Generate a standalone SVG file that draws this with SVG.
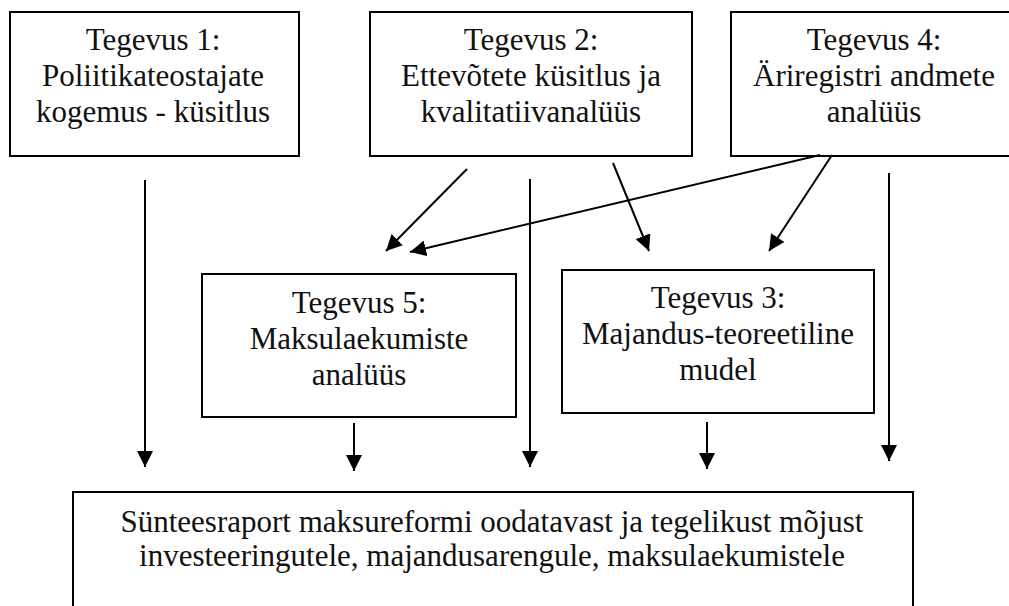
<svg xmlns="http://www.w3.org/2000/svg" width="1009" height="606" viewBox="0 0 1009 606">
<style>
.box{fill:#fff;stroke:#000;stroke-width:2}
text{font-family:'Liberation Serif','Times New Roman',serif;font-size:31px;fill:#111;text-anchor:middle}
.c{stroke:#000;stroke-width:2;fill:none;marker-end:url(#ah)}
</style>
<defs>
<marker id="ah" markerUnits="userSpaceOnUse" viewBox="0 0 16 16" refX="16" refY="8" markerWidth="16" markerHeight="16" orient="auto">
<path d="M0,0 L16,8 L0,16 z" fill="#000"/>
</marker>
</defs>
<rect width="1009" height="606" fill="#fff"/>
<g id="t1">
<rect class="box" x="10" y="12" width="289" height="144"/>
<text x="153" y="50">Tegevus 1:</text>
<text x="153" y="86">Poliitikateostajate</text>
<text x="153" y="122">kogemus - küsitlus</text>
</g>
<g id="t2">
<rect class="box" x="370" y="12" width="322" height="144"/>
<text x="531" y="50">Tegevus 2:</text>
<text x="531" y="86">Ettevõtete küsitlus ja</text>
<text x="531" y="122">kvalitatiivanalüüs</text>
</g>
<g id="t4">
<rect class="box" x="731" y="12" width="290" height="144"/>
<text x="874" y="50">Tegevus 4:</text>
<text x="874" y="86">Äriregistri andmete</text>
<text x="874" y="122">analüüs</text>
</g>
<g id="t5">
<rect class="box" x="202" y="274" width="314" height="143"/>
<text x="359" y="313">Tegevus 5:</text>
<text x="359" y="349">Maksulaekumiste</text>
<text x="359" y="385">analüüs</text>
</g>
<g id="t3">
<rect class="box" x="562" y="270" width="312" height="143"/>
<text x="718" y="308">Tegevus 3:</text>
<text x="718" y="344">Majandus-teoreetiline</text>
<text x="718" y="380">mudel</text>
</g>
<g id="synthesis">
<rect class="box" x="73" y="492" width="840" height="130"/>
<text x="492" y="532">Sünteesraport maksureformi oodatavast ja tegelikust mõjust</text>
<text x="492" y="566">investeeringutele, majandusarengule, maksulaekumistele</text>
</g>
<g id="connectors">
<line class="c" x1="145" y1="180" x2="145" y2="467"/>
<line class="c" x1="354" y1="423" x2="354" y2="471"/>
<line class="c" x1="530" y1="179" x2="530" y2="467"/>
<line class="c" x1="707" y1="422" x2="707" y2="469"/>
<line class="c" x1="889" y1="173" x2="889" y2="461"/>
<line class="c" x1="467" y1="169" x2="386" y2="251"/>
<line class="c" x1="820" y1="155" x2="410" y2="252"/>
<line class="c" x1="613" y1="163" x2="649" y2="251"/>
<line class="c" x1="832" y1="155" x2="769" y2="251"/>
</g>
</svg>
